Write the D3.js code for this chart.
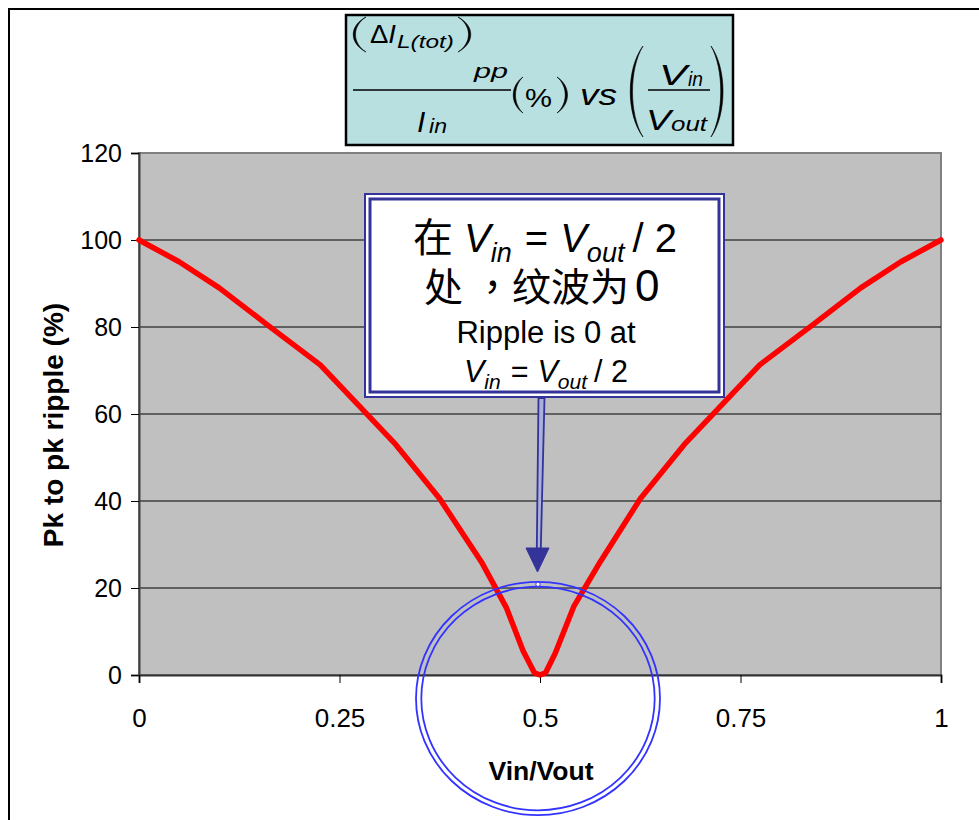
<!DOCTYPE html>
<html>
<head>
<meta charset="utf-8">
<script src="https://cdn.jsdelivr.net/npm/d3@7"></script>
<style>
  html, body { margin: 0; padding: 0; background: #ffffff; }
  svg { display: block; }
  .lat { font-family: "Liberation Sans", Arial, sans-serif; }
  .cjk { font-family: "Noto Sans CJK SC", sans-serif; }
  .cjktc { font-family: "Noto Sans CJK TC", sans-serif; }
</style>
</head>
<body>
<svg id="chart" width="979" height="820"></svg>
<script>
// Peak-to-peak inductor ripple (% of input current) against Vin/Vout
const ratio = [0, 0.05, 0.1, 0.16, 0.226, 0.32, 0.375, 0.427, 0.458, 0.479, 0.493, 0.5,
               0.507, 0.519, 0.542, 0.575, 0.625, 0.68, 0.774, 0.84, 0.9, 0.95, 1];
const ripple = [100, 95, 89, 80.5, 71.3, 53, 40.5, 26, 15.5, 5.5, 0.5, 0,
                0.5, 5, 15.7, 26, 40.5, 53, 71.3, 80.5, 89, 95, 100];
const xTicks = [0, 0.25, 0.5, 0.75, 1];
const xTickLabels = ["0", "0.25", "0.5", "0.75", "1"];
const yTicks = [0, 20, 40, 60, 80, 100, 120];
const xTitle = "Vin/Vout";
const yTitle = "Pk to pk ripple (%)";

const svg = d3.select("#chart");
const x = d3.scaleLinear().domain([0, 1]).range([139, 941]);
const y = d3.scaleLinear().domain([0, 120]).range([675, 153]);

// outer frame of the chart area
svg.append("rect").attr("x", 9).attr("y", 9).attr("width", 1000).attr("height", 900)
  .attr("fill", "#fff").attr("stroke", "#000").attr("stroke-width", 2);

// plot background
svg.append("rect")
  .attr("x", x(0)).attr("y", y(120))
  .attr("width", x(1) - x(0)).attr("height", y(0) - y(120))
  .attr("fill", "#c0c0c0").attr("stroke", "#808080").attr("stroke-width", 2);

// horizontal gridlines
svg.append("g").selectAll("line").data(yTicks.filter(d => d > 0 && d < 120)).join("line")
  .attr("x1", x(0)).attr("x2", x(1))
  .attr("y1", d => y(d)).attr("y2", d => y(d))
  .attr("stroke", "#000").attr("stroke-width", 1);

// y axis
const yAxis = svg.append("g").attr("transform", `translate(${x(0)},0)`)
  .call(d3.axisLeft(y).tickValues(yTicks).tickSize(8).tickPadding(9).tickFormat(d3.format("d")));
yAxis.select(".domain").attr("stroke", "#404040").attr("stroke-width", 2);
yAxis.selectAll(".tick line").attr("stroke", "#000").attr("stroke-width", 1);
yAxis.selectAll(".tick text").attr("class", "lat").attr("font-size", 25).attr("fill", "#000");

// x axis
const xAxis = svg.append("g").attr("transform", `translate(0,${y(0)})`)
  .call(d3.axisBottom(x).tickValues(xTicks).tickSize(8).tickPadding(0)
    .tickFormat((d, i) => xTickLabels[i]));
xAxis.select(".domain").attr("stroke", "#303030").attr("stroke-width", 2);
xAxis.selectAll(".tick line").attr("stroke", "#000").attr("stroke-width", 1);
xAxis.selectAll(".tick text").attr("class", "lat").attr("font-size", 26).attr("fill", "#000")
  .attr("dy", null).attr("y", 52);

// axis titles
svg.append("text").attr("class", "lat")
  .attr("x", (x(0) + x(1)) / 2 + 1).attr("y", 780)
  .attr("text-anchor", "middle").attr("font-size", 26.5).attr("font-weight", "bold")
  .text(xTitle);
svg.append("text").attr("class", "lat")
  .attr("transform", `translate(63,${(y(0) + y(120)) / 2 + 11}) rotate(-90)`)
  .attr("text-anchor", "middle").attr("font-size", 28).attr("font-weight", "bold")
  .text(yTitle);

// ripple curve
const line = d3.line().x((d, i) => x(ratio[i])).y(d => y(d));
svg.append("path").datum(ripple)
  .attr("d", line)
  .attr("fill", "none").attr("stroke", "#ff0000").attr("stroke-width", 5.5)
  .attr("stroke-linejoin", "round").attr("stroke-linecap", "round");

// ---- title box with formula ----
const tg = svg.append("g").attr("class", "lat").attr("fill", "#000");
tg.append("rect").attr("x", 346).attr("y", 15).attr("width", 387).attr("height", 130)
  .attr("fill", "#b9e0e0").attr("stroke", "#000").attr("stroke-width", 2.5);

// tall bracket drawn as a thin crescent; dir = 1 for "(", -1 for ")"
function paren(x0, y0, y1, dir, b) {
  const h = y1 - y0;
  const a = y0 + h * 0.25, c = y1 - h * 0.25;
  const o = x0 - dir * b, i = x0 - dir * (b - 3);
  tg.append("path")
    .attr("d", `M${x0},${y0} C${o},${a} ${o},${c} ${x0},${y1} C${i},${c} ${i},${a} ${x0},${y0} Z`)
    .attr("fill", "#000").attr("stroke", "#000").attr("stroke-width", 0.6);
}
function piece(str, px, base, size, italic, width) {
  const t = tg.append("text").attr("x", px).attr("y", base).attr("font-size", size)
    .attr("font-style", italic ? "italic" : "normal").text(str);
  if (width) t.attr("textLength", width).attr("lengthAdjust", "spacingAndGlyphs");
  return t;
}
// numerator (ΔI_L(tot))_pp
paren(366, 17, 52, 1, 17);
const di = tg.append("text").attr("x", 370).attr("y", 43).attr("font-size", 26)
  .attr("textLength", 26).attr("lengthAdjust", "spacingAndGlyphs");
di.append("tspan").text("Δ");
di.append("tspan").attr("font-style", "italic").text("I");
piece("L(tot)", 397, 48, 19, true, 57);
paren(458, 17, 52, -1, 17);
piece("pp", 474, 78, 21, true, 34);
tg.append("line").attr("x1", 353).attr("x2", 511).attr("y1", 90).attr("y2", 90)
  .attr("stroke", "#000").attr("stroke-width", 1.5);
// denominator I_in
piece("I", 417, 132, 30, true);
piece("in", 429, 133, 21, true, 18);
// (%)
paren(523, 77, 113, 1, 13);
piece("%", 525, 107, 26, false, 27);
paren(557, 77, 113, -1, 14);
piece("vs", 580, 105, 30, true, 37);
// (Vin / Vout)
paren(643, 46, 137, 1, 17);
piece("V", 659, 85, 30, true, 28);
piece("in", 688, 86, 21, true, 15);
tg.append("line").attr("x1", 648).attr("x2", 710).attr("y1", 90).attr("y2", 90)
  .attr("stroke", "#000").attr("stroke-width", 1.5);
piece("V", 646, 130, 30, true, 25);
piece("out", 671, 131, 21, true, 36);
paren(711, 46, 137, -1, 16);

// ---- callout box ----
const navy = "#333399";
const cg = svg.append("g");
cg.append("rect").attr("x", 365).attr("y", 194).attr("width", 359).attr("height", 203)
  .attr("fill", "#fff").attr("stroke", navy).attr("stroke-width", 2);
cg.append("rect").attr("x", 370).attr("y", 199).attr("width", 349).attr("height", 193)
  .attr("fill", "#fff").attr("stroke", navy).attr("stroke-width", 3);

const cx = 545;
const l1 = cg.append("text").attr("x", cx).attr("y", 252).attr("text-anchor", "middle")
  .attr("font-size", 40).attr("class", "lat");
l1.append("tspan").attr("class", "cjk").text("在");
l1.append("tspan").attr("font-style", "italic").attr("dx", 11).text("V");
l1.append("tspan").attr("font-style", "italic").attr("font-size", 27).attr("dy", 10).text("in");
l1.append("tspan").attr("dy", -10).attr("dx", 13).text("=");
l1.append("tspan").attr("font-style", "italic").attr("dx", 12).text("V");
l1.append("tspan").attr("font-style", "italic").attr("font-size", 27).attr("dy", 10).text("out");
l1.append("tspan").attr("dy", -10).attr("dx", 8).text("/ 2");

const l2 = cg.append("text").attr("class", "cjk").attr("x", 424).attr("y", 301)
  .attr("font-size", 39);
l2.append("tspan").text("处");
l2.append("tspan").attr("class", "cjktc").attr("dx", 10).text("，");
l2.append("tspan").text("纹波为");
l2.append("tspan").attr("class", "lat").attr("font-size", 44).attr("dx", 6).text("0");

cg.append("text").attr("class", "lat").attr("x", cx + 1).attr("y", 343).attr("text-anchor", "middle")
  .attr("font-size", 31).text("Ripple is 0 at");

const l4 = cg.append("text").attr("class", "lat").attr("x", cx + 1).attr("y", 382).attr("text-anchor", "middle")
  .attr("font-size", 30.5);
l4.append("tspan").attr("font-style", "italic").text("V");
l4.append("tspan").attr("font-style", "italic").attr("font-size", 21).attr("dy", 7).text("in");
l4.append("tspan").attr("dy", -7).attr("dx", 10).text("=");
l4.append("tspan").attr("font-style", "italic").attr("dx", 9).text("V");
l4.append("tspan").attr("font-style", "italic").attr("font-size", 21).attr("dy", 7).text("out");
l4.append("tspan").attr("dy", -7).attr("dx", 7).text("/ 2");

// arrow from callout down to the zero-ripple point
const ag = svg.append("g");
ag.append("path")
  .attr("d", "M538.5,398 L544.5,398 L540.8,549 L536.8,549 Z")
  .attr("fill", "#aab0d8").attr("stroke", navy).attr("stroke-width", 1.8);
ag.append("path")
  .attr("d", "M526,548 L549,548 L537.5,572 Z")
  .attr("fill", navy).attr("stroke", navy).attr("stroke-width", 1);

// double ellipse highlighting Vin/Vout = 0.5
const blue = "#3333ff";
svg.append("ellipse").attr("cx", 538).attr("cy", 698.5).attr("rx", 122).attr("ry", 116.7)
  .attr("fill", "none").attr("stroke", blue).attr("stroke-width", 1.8);
svg.append("ellipse").attr("cx", 538).attr("cy", 698.5).attr("rx", 116.7).attr("ry", 111.8)
  .attr("fill", "none").attr("stroke", blue).attr("stroke-width", 1.8);
svg.append("circle").attr("cx", 538).attr("cy", 584.3).attr("r", 2.2)
  .attr("fill", "#fff").attr("stroke", blue).attr("stroke-width", 1);
</script>
</body>
</html>
